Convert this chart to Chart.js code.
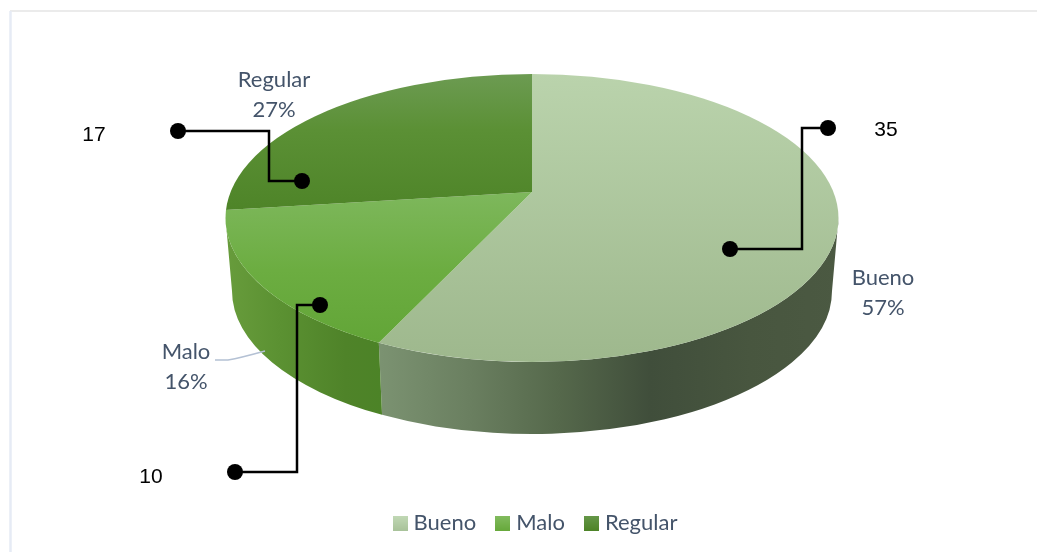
<!DOCTYPE html>
<html><head><meta charset="utf-8">
<style>html,body{margin:0;padding:0;background:#fff}#w{position:relative;width:1037px;height:552px}canvas{display:block}</style>
<script src="https://cdn.jsdelivr.net/npm/chart.js@4"></script>
</head><body><div id="w"><canvas id="c" width="1037" height="552"></canvas></div>
<script>
const categories = ['Bueno', 'Malo', 'Regular'];
const percentages = [57, 16, 27];
const counts = [35, 10, 17];

const TEXT = '#44546A';
const TILT = 0.463;
const APEX = {x: 532, y: 192};
const TOP = {x: 532, y: 218, rx: 306.5, ry: 144};
const BOT = {x: 532, y: 291, rx: 300, ry: 143};

const topStops = [
  [[74,'#bad3ac'],[362,'#9eb88d']],
  [[195,'#7db75b'],[270,'#6cad41'],[345,'#62a537']],
  [[74,'#6c9b52'],[130,'#5b9035'],[212,'#4e8428']]
];
const sideStops = [
  [[381,'#7b9271'],[470,'#6a7f60'],[560,'#55684b'],[650,'#404e3b'],[750,'#48563f'],[838,'#4b5942']],
  [[225,'#689c3c'],[280,'#5b9132'],[345,'#4f8329'],[381,'#4c8327']],
  null
];
const legendStops = [['#c2d9b6','#a9c39a'],['#83bc60','#67a93c'],['#66984a','#4e8428']];
const callouts = [
  {pts:[[828,128],[802,128],[802,249],[730,249]], tx:886, ty:129},
  {pts:[[235,472],[297,472],[297,305],[320,305]], tx:151, ty:476},
  {pts:[[178,131],[269,131],[269,181],[302,181]], tx:94, ty:134}
];
const labelPos = [{x:883,y:278},{x:186,y:352},{x:274,y:80}];

function paramFor(angle){
  const dx=Math.cos(angle), dy=TILT*Math.sin(angle);
  const ox=(APEX.x-TOP.x)/TOP.rx, oy=(APEX.y-TOP.y)/TOP.ry;
  const ux=dx/TOP.rx, uy=dy/TOP.ry;
  const a=ux*ux+uy*uy, b=2*(ox*ux+oy*uy), c=ox*ox+oy*oy-1;
  const r=(-b+Math.sqrt(b*b-4*a*c))/(2*a);
  return Math.atan2(oy+uy*r, ox+ux*r);
}
function norm(t){return t<-Math.PI/2 ? t+2*Math.PI : t;}
function legendSwatch(stops){
  const cv=document.createElement('canvas');cv.width=15;cv.height=15;
  const g=cv.getContext('2d'), gr=g.createLinearGradient(0,0,0,15);
  gr.addColorStop(0,stops[0]);gr.addColorStop(1,stops[1]);
  g.fillStyle=gr;g.fillRect(0,0,15,15);
  return cv;
}

const pie3d = {
  id:'pie3d',
  beforeDraw(chart){
    const g=chart.ctx;
    g.save();g.fillStyle='#fff';g.fillRect(0,0,1037,552);
    g.strokeStyle='#e4e4e4';g.lineWidth=1.5;
    g.beginPath();g.moveTo(1037,11);g.lineTo(10,11);g.stroke();
    g.strokeStyle='#e6ebf5';g.lineWidth=2.5;
    g.beginPath();g.moveTo(10.5,11);g.lineTo(10.5,552);g.stroke();
    g.restore();
  },
  beforeDatasetsDraw(chart){
    const g=chart.ctx, arcs=chart.getDatasetMeta(0).data;
    g.save();
    arcs.forEach((arc,i)=>{
      if(!sideStops[i])return;
      const a=Math.max(0,norm(paramFor(arc.startAngle))), b=Math.min(Math.PI,norm(paramFor(arc.endAngle)));
      if(b<=a)return;
      const x0=sideStops[i][0][0],x1=sideStops[i][sideStops[i].length-1][0];
      const gr=g.createLinearGradient(x0,0,x1,0);
      sideStops[i].forEach(s=>gr.addColorStop((s[0]-x0)/(x1-x0),s[1]));
      g.fillStyle=gr;
      g.beginPath();
      g.ellipse(TOP.x,TOP.y,TOP.rx,TOP.ry,0,a,b);
      g.ellipse(BOT.x,BOT.y,BOT.rx,BOT.ry,0,b,a,true);
      g.closePath();g.fill();
    });
    g.beginPath();g.ellipse(TOP.x,TOP.y,TOP.rx,TOP.ry,0,0,Math.PI*2);g.clip();
    const a0=arcs[0];
    g.translate(APEX.x,APEX.y);g.scale(1,TILT);g.translate(-a0.x,-a0.y);
  },
  afterDatasetsDraw(chart){
    const g=chart.ctx;
    g.restore();
    g.save();
    g.strokeStyle='#b4c1d4';g.lineWidth=1.4;
    g.beginPath();g.moveTo(215,360);g.lineTo(228,360);g.quadraticCurveTo(240,358,265,351);g.stroke();
    g.strokeStyle='#000';g.fillStyle='#000';g.lineWidth=2.5;
    callouts.forEach((c,i)=>{
      g.beginPath();c.pts.forEach((p,k)=>k?g.lineTo(p[0],p[1]):g.moveTo(p[0],p[1]));g.stroke();
      [c.pts[0],c.pts[c.pts.length-1]].forEach(p=>{g.beginPath();g.arc(p[0],p[1],8,0,Math.PI*2);g.fill();});
      g.font='21px "Liberation Sans"';g.textAlign='center';g.textBaseline='middle';
      g.fillText(String(counts[i]),c.tx,c.ty+1);
    });
    g.fillStyle=TEXT;g.font='22px Lato';g.textAlign='center';g.textBaseline='middle';
    labelPos.forEach((p,i)=>{
      g.fillText(categories[i],p.x,p.y);
      g.fillText(percentages[i]+'%',p.x,p.y+30);
    });
    g.restore();
  }
};

new Chart(document.getElementById('c'),{
  type:'pie',
  data:{labels:categories,datasets:[{
    data:percentages,
    clip:false,
    radius:460,
    borderWidth:0,
    backgroundColor(ctx){
      const i=ctx.dataIndex, stops=topStops[i], area=ctx.chart.chartArea;
      if(!area||i===undefined) return stops?stops[0][1]:'#888';
      const cy=(area.top+area.bottom)/2;
      const toY=y=>cy+(y-APEX.y)/TILT;
      const y0=stops[0][0],y1=stops[stops.length-1][0];
      const gr=ctx.chart.ctx.createLinearGradient(0,toY(y0),0,toY(y1));
      stops.forEach(s=>gr.addColorStop((s[0]-y0)/(y1-y0),s[1]));
      return gr;
    }
  }]},
  options:{
    responsive:false,animation:false,
    layout:{padding:{bottom:8,left:38}},
    plugins:{
      tooltip:{enabled:false},
      legend:{position:'bottom',labels:{
        color:TEXT,font:{family:'Lato',size:22},boxWidth:15,boxHeight:15,padding:24,
        usePointStyle:true,pointStyleWidth:5,
        generateLabels(chart){
          return categories.map((t,i)=>({text:t,fontColor:TEXT,pointStyle:legendSwatch(legendStops[i]),
            fillStyle:legendStops[i][1],strokeStyle:'rgba(0,0,0,0)',lineWidth:0,index:i}));
        }
      }}
    }
  },
  plugins:[pie3d]
});
</script></body></html>
